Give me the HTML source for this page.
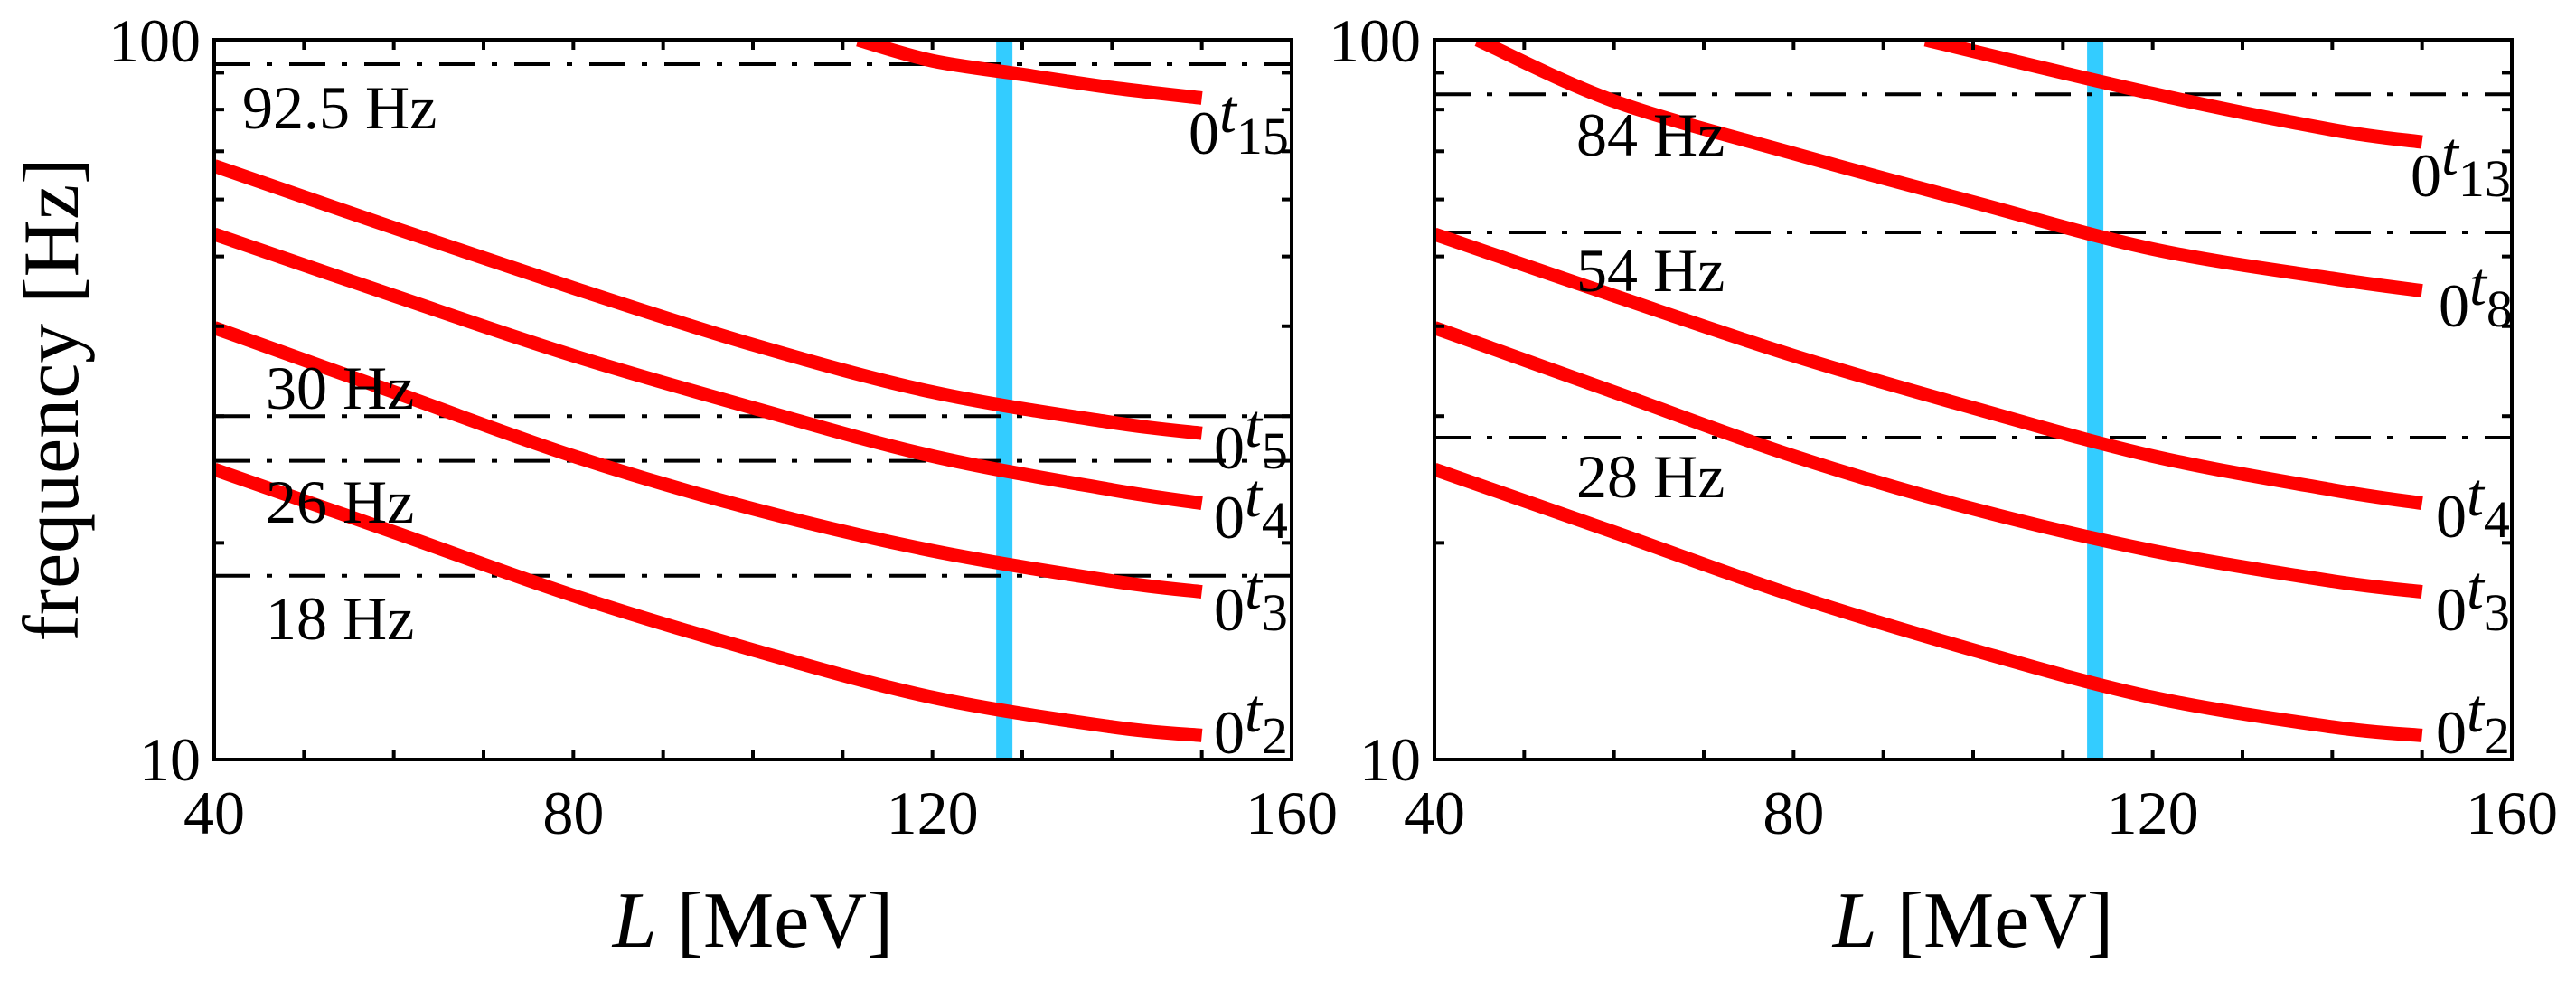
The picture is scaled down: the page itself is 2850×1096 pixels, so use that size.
<!DOCTYPE html>
<html><head><meta charset="utf-8"><style>
html,body{margin:0;padding:0;background:#fff;}
svg{display:block;font-family:"Liberation Serif",serif;}
</style></head><body>
<svg id="chart" width="2850" height="1096" viewBox="0 0 2850 1096"></svg>
<script>
const Ls = [40, 60, 80, 100, 120, 140, 150];
const t2 = [25.3, 20.7, 16.9, 14.2, 12.2, 11.1, 10.8];
const t3 = [39.8, 32.4, 26.4, 22.3, 19.5, 17.7, 17.1];
const t4 = [53.7, 44.1, 36.4, 30.8, 26.4, 23.7, 22.7];
const t5 = [66.8, 54.8, 45.2, 37.7, 32.4, 29.4, 28.4];
const t15L = [111.7, 120, 130, 140, 150];
const t15 = [100, 93.5, 89.5, 85.8, 83];
const t8L = [44.8, 60, 80, 100, 120, 140, 150];
const t8 = [100, 82.2, 69.5, 59.5, 51.2, 46.6, 44.8];
const t13L = [94.7, 120, 140, 150];
const t13 = [100, 84.2, 75, 72.1];
const leftLines = [92.5, 30, 26, 18];
const rightLines = [84, 54, 28];
const leftBlue = 128;
const rightBlue = 113.6;
const xTicks = [40, 80, 120, 160];

const NS = "http://www.w3.org/2000/svg";
const svg = document.getElementById('chart');
function el(tag, attrs, parent){
  const e = document.createElementNS(NS, tag);
  for (const k in attrs) e.setAttribute(k, attrs[k]);
  (parent||svg).appendChild(e); return e;
}
const T = 44, B = 840;
function makePanel(x0, name){
  const x1 = x0 + 1192;
  const g = el('g', {});
  
  
  return {x0, x1, g,
    sx: L => x0 + (L - 40) / 120 * 1192,
    sy: f => T + (2 - Math.log10(f)) * (B - T)};
}
function curve(P, xs, ys, name){
  let pts = xs.map((L,i)=>[P.sx(L), P.sy(ys[i])]);
  let d = 'M' + pts[0][0] + ',' + pts[0][1];
  for (let i=0;i<pts.length-1;i++){
    const p0 = pts[Math.max(0,i-1)], p1 = pts[i], p2 = pts[i+1], p3 = pts[Math.min(pts.length-1,i+2)];
    const c1 = [p1[0]+(p2[0]-p0[0])/6, p1[1]+(p2[1]-p0[1])/6];
    const c2 = [p2[0]-(p3[0]-p1[0])/6, p2[1]-(p3[1]-p1[1])/6];
    d += ' C'+c1[0]+','+c1[1]+' '+c2[0]+','+c2[1]+' '+p2[0]+','+p2[1];
  }
  const p = el('path', {d, fill:'none', stroke:'#ff0000', 'stroke-width':15, 'clip-path':'url(#clip'+(P.x0<1000?'L':'R')+')'}, P.g);
  
  
}
function hline(P, f){
  const y = P.sy(f);
  const l = el('line', {x1:P.x0, x2:P.x1, y1:y, y2:y, stroke:'#000', 'stroke-width':4, 'stroke-dasharray':'40 18 6 19'}, P.g);
  
  
}
function text(P, x, y, s, size, name, anchor){
  const t = el('text', {x, y, 'font-size':size, 'text-anchor':anchor||'start', fill:'#000'}, P ? P.g : svg);
  t.textContent = s;
  
  
  return t;
}
function modeLabel(P, x, y, sub, name){
  const t = el('text', {x, y, 'font-size':68, fill:'#000'}, P.g);
  
  
  const a = el('tspan', {}, t); a.textContent = '0';
  const b = el('tspan', {dy:-24, 'font-style':'italic'}, t); b.textContent = 't';
  const c = el('tspan', {dy:24, 'font-size':58}, t); c.textContent = sub;
}
const defs = el('defs', {});
[['L',237],['R',1587]].forEach(([k,x])=>{
  const cp = el('clipPath', {id:'clip'+k}, defs);
  el('rect', {x:x, y:T, width:1192, height:B-T}, cp);
});
function axes(P){
  for (let f=20; f<=90; f+=10){
    const y = P.sy(f);
    el('line', {x1:P.x0, x2:P.x0+11, y1:y, y2:y, stroke:'#000','stroke-width':4}, P.g);
    el('line', {x1:P.x1-11, x2:P.x1, y1:y, y2:y, stroke:'#000','stroke-width':4}, P.g);
  }
  for (let L=50; L<160; L+=10){
    const x = P.sx(L);
    el('line', {x1:x, x2:x, y1:B, y2:B-11, stroke:'#000','stroke-width':4}, P.g);
    el('line', {x1:x, x2:x, y1:T, y2:T+11, stroke:'#000','stroke-width':4}, P.g);
  }
  const r = el('rect', {x:P.x0, y:T, width:1192, height:B-T, fill:'none', stroke:'#000', 'stroke-width':4}, P.g);
  
  
  text(P, P.x0-15, 68, '100', 68, 'y-tick-100', 'end');
  text(P, P.x0-15, 863, '10', 68, 'y-tick-10', 'end');
  xTicks.forEach(v => text(P, P.sx(v), 922, String(v), 68, 'x-tick-'+v, 'middle'));
  const xt = el('text', {x:(P.x0+P.x1)/2, y:1047, 'font-size':88, 'text-anchor':'middle', fill:'#000'}, P.g);
  
  
  const i = el('tspan', {'font-style':'italic'}, xt); i.textContent = 'L';
  const j = el('tspan', {}, xt); j.textContent = ' [MeV]';
}
function blue(P, L){
  const x = P.sx(L);
  const r = el('rect', {x:x-9, y:T, width:18, height:B-T, fill:'#33ccff'}, P.g);
  
  
}

const PL = makePanel(237, 'left-panel');
blue(PL, leftBlue);
leftLines.forEach(f => hline(PL, f));
curve(PL, t15L, t15, 'curve-t15');
curve(PL, Ls, t5, 'curve-t5');
curve(PL, Ls, t4, 'curve-t4');
curve(PL, Ls, t3, 'curve-t3');
curve(PL, Ls, t2, 'curve-t2');
axes(PL);
text(PL, 268, 142, '92.5 Hz', 68, 'label-92.5hz');
text(PL, 294, 452, '30 Hz', 68, 'label-30hz');
text(PL, 294, 578, '26 Hz', 68, 'label-26hz');
text(PL, 294, 707, '18 Hz', 68, 'label-18hz');
modeLabel(PL, 1315, 170, '15', 'label-t15');
modeLabel(PL, 1343, 518, '5', 'label-t5');
modeLabel(PL, 1343, 595, '4', 'label-t4');
modeLabel(PL, 1343, 697, '3', 'label-t3');
modeLabel(PL, 1343, 833, '2', 'label-t2');

const PR = makePanel(1587, 'right-panel');
blue(PR, rightBlue);
rightLines.forEach(f => hline(PR, f));
curve(PR, t13L, t13, 'curve-t13');
curve(PR, t8L, t8, 'curve-t8');
curve(PR, Ls, t4, 'curve-t4');
curve(PR, Ls, t3, 'curve-t3');
curve(PR, Ls, t2, 'curve-t2');
axes(PR);
text(PR, 1744, 172, '84 Hz', 68, 'label-84hz');
text(PR, 1744, 322, '54 Hz', 68, 'label-54hz');
text(PR, 1744, 550, '28 Hz', 68, 'label-28hz');
modeLabel(PR, 2667, 217, '13', 'label-t13');
modeLabel(PR, 2698, 361, '8', 'label-t8');
modeLabel(PR, 2695, 594, '4', 'label-t4');
modeLabel(PR, 2695, 697, '3', 'label-t3');
modeLabel(PR, 2695, 833, '2', 'label-t2');

const yt = el('text', {x:0, y:0, 'font-size':88, 'text-anchor':'middle', fill:'#000', transform:'translate(86,442) rotate(-90)'});
yt.textContent = 'frequency [Hz]';


</script>
</body></html>
